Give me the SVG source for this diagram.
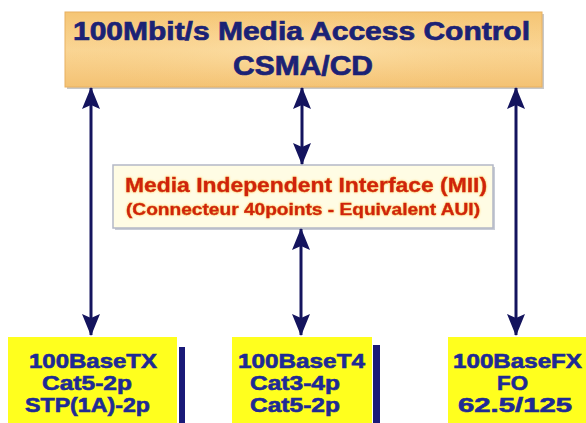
<svg xmlns="http://www.w3.org/2000/svg" width="586" height="423" viewBox="0 0 586 423">
<defs>
  <linearGradient id="gTop" x1="0" y1="0" x2="0" y2="1">
    <stop offset="0" stop-color="#f5c574"/>
    <stop offset="0.5" stop-color="#fad696"/>
    <stop offset="1" stop-color="#f4c273"/>
  </linearGradient>
  <radialGradient id="gTopR" cx="0.5" cy="0.5" r="0.6">
    <stop offset="0" stop-color="#fde4b0" stop-opacity="0.7"/>
    <stop offset="1" stop-color="#f6c878" stop-opacity="0"/>
  </radialGradient>
  <filter id="glow" x="-5%" y="-30%" width="110%" height="160%">
    <feGaussianBlur in="SourceAlpha" stdDeviation="1.2" result="b"/>
    <feFlood flood-color="#ffb020" flood-opacity="0.7"/>
    <feComposite in2="b" operator="in" result="c"/>
    <feMerge><feMergeNode in="c"/><feMergeNode in="SourceGraphic"/></feMerge>
  </filter>
  <marker id="ah" viewBox="0 0 22 18" refX="21" refY="9" markerWidth="22" markerHeight="18" markerUnits="userSpaceOnUse" orient="auto-start-reverse">
    <path d="M0,0 L22,9 L0,18 L4,9 Z" fill="#14145e"/>
  </marker>
  <style>
    .title{font-family:"Liberation Sans",Arial,sans-serif;font-weight:bold;fill:#1b2275;stroke:#1b2275;stroke-width:0.7;text-anchor:middle}
    .mii{font-family:"Liberation Sans",Arial,sans-serif;font-weight:bold;fill:#d0240c;stroke:#d0240c;stroke-width:0.4;text-anchor:middle}
    .phy{font-family:"Liberation Sans",Arial,sans-serif;font-weight:bold;fill:#1e2a95;stroke:#1e2a95;stroke-width:0.6;text-anchor:middle;font-size:20px}
    .ybox{fill:#ffff1e}
    .bar{fill:#1a1a78}
    .conn{stroke:#14145e;stroke-width:3;fill:none;marker-start:url(#ah);marker-end:url(#ah)}
  </style>
</defs>
<rect width="586" height="423" fill="#ffffff"/>

<g id="mac">
  <rect x="67" y="14" width="477" height="75" fill="#c8c8c8"/>
  <rect x="65" y="12" width="477" height="75" fill="url(#gTop)" stroke="#e8b060" stroke-width="1"/>
  <rect x="65" y="12" width="477" height="75" fill="url(#gTopR)"/>
  <text class="title" x="301.5" y="40" font-size="26" textLength="457" lengthAdjust="spacingAndGlyphs">100Mbit/s Media Access Control</text>
  <text class="title" x="303" y="75" font-size="27" textLength="140" lengthAdjust="spacingAndGlyphs">CSMA/CD</text>
</g>

<g id="mii">
  <rect x="115" y="167" width="380" height="63" fill="#c8ccd6"/>
  <rect x="113" y="165" width="380" height="63" fill="#fffce4" stroke="#b4b8c6" stroke-width="1.5"/>
  <g filter="url(#glow)">
    <text class="mii" x="306" y="192" font-size="20" textLength="362" lengthAdjust="spacingAndGlyphs">Media Independent Interface (MII)</text>
    <text class="mii" x="303" y="215" font-size="16" textLength="354" lengthAdjust="spacingAndGlyphs">(Connecteur 40points - Equivalent AUI)</text>
  </g>
</g>

<g id="tx">
  <rect class="ybox" x="8" y="337" width="169" height="86"/>
  <rect class="bar" x="179" y="347" width="6" height="76"/>
  <text class="phy" x="93" y="368" textLength="128" lengthAdjust="spacingAndGlyphs">100BaseTX</text>
  <text class="phy" x="87" y="390" textLength="90" lengthAdjust="spacingAndGlyphs">Cat5-2p</text>
  <text class="phy" x="87.5" y="412" textLength="125" lengthAdjust="spacingAndGlyphs">STP(1A)-2p</text>
</g>

<g id="t4">
  <rect class="ybox" x="232" y="337" width="140" height="86"/>
  <rect class="bar" x="373" y="345" width="7" height="78"/>
  <text class="phy" x="301.5" y="368" textLength="127" lengthAdjust="spacingAndGlyphs">100BaseT4</text>
  <text class="phy" x="295" y="390" textLength="90" lengthAdjust="spacingAndGlyphs">Cat3-4p</text>
  <text class="phy" x="295" y="412" textLength="90" lengthAdjust="spacingAndGlyphs">Cat5-2p</text>
</g>

<g id="fx">
  <rect class="ybox" x="448" y="337" width="138" height="86"/>
  <text class="phy" x="517.5" y="368" textLength="129" lengthAdjust="spacingAndGlyphs">100BaseFX</text>
  <text class="phy" x="512.5" y="390" textLength="31" lengthAdjust="spacingAndGlyphs">FO</text>
  <text class="phy" x="515" y="412" textLength="114" lengthAdjust="spacingAndGlyphs">62.5/125</text>
</g>

<g id="connectors">
  <line class="conn" x1="91" y1="88" x2="91" y2="335"/>
  <line class="conn" x1="302" y1="88" x2="302" y2="164"/>
  <line class="conn" x1="301" y1="229" x2="301" y2="335"/>
  <line class="conn" x1="516" y1="88" x2="516" y2="335"/>
</g>
</svg>
